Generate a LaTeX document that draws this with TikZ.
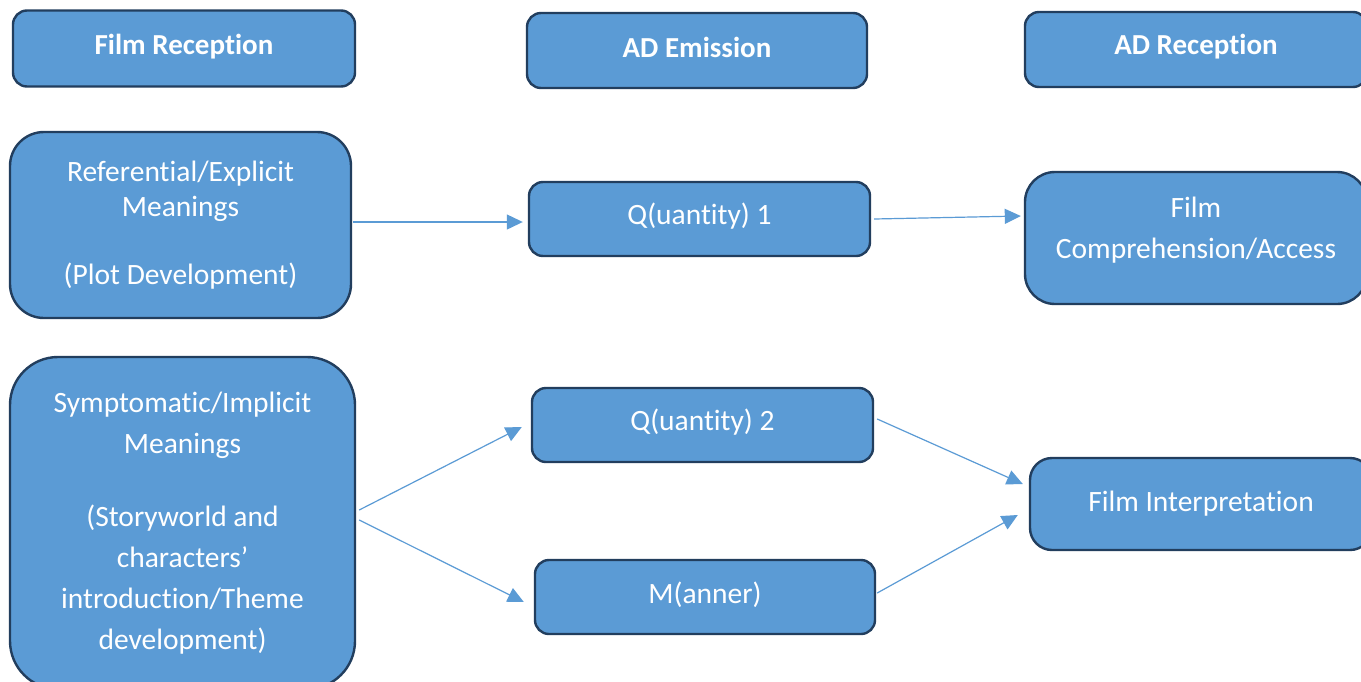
\documentclass[tikz,border=0pt]{standalone}
\usepackage{fontspec}
\setmainfont[Ligatures=NoCommon]{Carlito}
\usetikzlibrary{arrows.meta,calc}
\definecolor{boxfill}{HTML}{5B9BD5}
\definecolor{boxline}{HTML}{223E5E}
\definecolor{arrowblue}{HTML}{5B9BD5}
\newcommand{\lift}[2]{\raisebox{#1}[\height][\depth]{#2}}
\tikzset{
  box/.style={draw=boxline, line width=2.4pt, fill=boxfill, text=white,
    align=center, inner sep=0pt, font=\fontsize{29.5}{41}\selectfont},
  headbox/.style={box, rounded corners=14pt, font=\bfseries\fontsize{29}{32}\selectfont},
  arr/.style={draw=arrowblue, line width=1.2pt,
    -{Triangle[length=16pt,width=15pt]}},
}
\begin{document}
\begin{tikzpicture}[x=1pt,y=-1pt]
\useasboundingbox[fill=white] (0,0) rectangle (1361,681);
% headers
\node[headbox, minimum width=342pt, minimum height=76pt] (H1) at (184,48.5) {\lift{2pt}{Film Reception}};
\node[headbox, minimum width=340pt, minimum height=75pt] (H2) at (697,50.5) {\lift{3pt}{AD Emission}};
\node[headbox, minimum width=342pt, minimum height=75pt] (H3) at (1196,49.5) {\lift{3pt}{AD Reception}};
% left column
\node[box, rounded corners=34pt, minimum width=341pt, minimum height=186pt,
  font=\fontsize{29.5}{35}\selectfont] (RE) at (180.5,225)
  {Referential/Explicit\\Meanings\\[33pt](Plot Development)};
\node[box, rounded corners=48pt, minimum width=345pt, minimum height=332pt] (SI) at (182.5,523)
  {Symptomatic/Implicit\\Meanings\\[32pt](Storyworld and\\characters’\\introduction/Theme\\development)};
% middle column
\node[box, rounded corners=14pt, minimum width=341pt, minimum height=74pt] (Q1) at (699.5,219) {\lift{3pt}{Q(uantity) 1}};
\node[box, rounded corners=14pt, minimum width=341pt, minimum height=74pt] (Q2) at (702.5,425) {\lift{3pt}{Q(uantity) 2}};
\node[box, rounded corners=14pt, minimum width=340pt, minimum height=74pt] (M) at (705,597) {\lift{2pt}{M(anner)}};
% right column
\node[box, rounded corners=30pt, minimum width=342pt, minimum height=132pt] (FC) at (1196,238)
  {Film\\Comprehension/Access\\[-20pt]\mbox{}};
\node[box, rounded corners=22pt, minimum width=342pt, minimum height=92pt] (FI) at (1201,504) {Film Interpretation};
% connectors
\draw[arr] ([shift={(1,-3)}]RE.east) -- ([shift={(-5,3)}]Q1.west);
\draw[arr] ([shift={(3,0)}]Q1.east) -- ([shift={(-3,-22)}]FC.west);
\draw[arr] ([shift={(3,-13)}]SI.east) -- ([shift={(-9,2)}]Q2.west);
\draw[arr] ([shift={(3,-3)}]SI.east) -- ([shift={(-10,5)}]M.west);
\draw[arr] ([shift={(3,-6)}]Q2.east) -- ([shift={(-6,-20)}]FI.west);
\draw[arr] ([shift={(1,-4)}]M.east) -- ([shift={(-11,11)}]FI.west);
\end{tikzpicture}
\end{document}
